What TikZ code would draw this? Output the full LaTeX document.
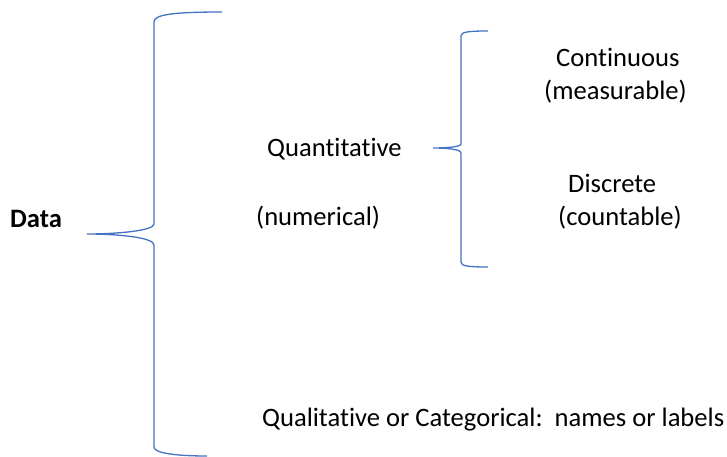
\documentclass[tikz,border=0pt]{standalone}
\usepackage{fontspec}
\setmainfont{Carlito}[Ligatures={NoCommon}]
\definecolor{bracecol}{HTML}{4472C4}
\begin{document}
\begin{tikzpicture}[x=1pt,y=-1pt,
  lbl/.style={anchor=base west,inner sep=0pt,font=\fontsize{26.6}{32}\selectfont},
  brace/.style={draw=bracecol,line width=1.3pt}]
\useasboundingbox (0,0) rectangle (727,457);
% texts
\node[lbl,font=\fontsize{26.6}{32}\selectfont\bfseries] (data) at (10,227) {Data};
\node[lbl] (quant) at (267,157) {Quantitative};
\node[lbl] (num) at (256,225) {(numerical)};
\node[lbl] (cont) at (556,67) {Continuous};
\node[lbl] (meas) at (544,100) {(measurable)};
\node[lbl] (disc) at (568,192) {Discrete};
\node[lbl] (count) at (558,225) {(countable)};
\node[lbl] (qual) at (262,426) {Qualitative or Categorical:\ \ names or labels};
% big brace
\coordinate (bigtip) at (87,234);
\coordinate (bigtop) at (222,12);
\coordinate (bigbot) at (207,456);
\path[brace] (bigtop) .. controls (170,12) and (154,15) .. (154,22)
  -- (154,224) .. controls (154,231) and (115,234) .. (bigtip)
  .. controls (115,234) and (154,237) .. (154,245)
  -- (154,447) .. controls (154,453) and (175,456) .. (bigbot);
% small brace
\coordinate (smalltip) at (433,148);
\coordinate (smalltop) at (488,31);
\coordinate (smallbot) at (488,267);
\path[brace] (smalltop) .. controls (468,31) and (461,32) .. (461,36)
  -- (461,144) .. controls (461,147) and (445,148) .. (smalltip)
  .. controls (445,148) and (461,149) .. (461,153)
  -- (461,262) .. controls (461,266) and (468,267) .. (smallbot);
\end{tikzpicture}
\end{document}
